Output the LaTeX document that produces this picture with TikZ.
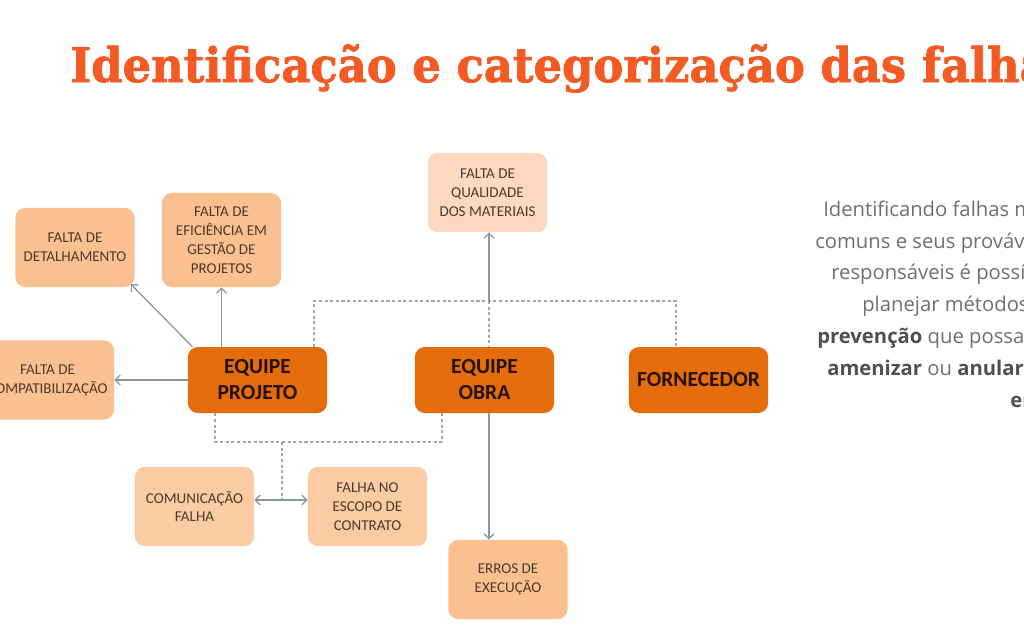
\documentclass[tikz,border=0pt]{standalone}
\usepackage{fontspec}
\setmainfont{Carlito}
\newfontfamily\titlefont{DejaVu Serif}[BoldFeatures={FakeBold=1.6}]
\newfontfamily\corpofont{Open Sans}
\usepackage{tikz}
\usetikzlibrary{arrows.meta}

\definecolor{laranja}{HTML}{E46C0A}
\definecolor{claro}{HTML}{FAC090}
\definecolor{maisclaro}{HTML}{FBCBA3}
\definecolor{palido}{HTML}{FCD9BE}
\definecolor{titulocor}{HTML}{F35B25}
\definecolor{textocausa}{HTML}{4C3A2E}
\definecolor{textoequipe}{HTML}{251203}
\definecolor{cinza}{HTML}{8A96A0}
\definecolor{cinzaclaro}{HTML}{A6A6A6}
\definecolor{textocinza}{HTML}{707070}
\definecolor{textoforte}{HTML}{505050}

\begin{document}
\begin{tikzpicture}[x=0.025cm,y=-0.025cm,>={Straight Barb[length=3.5pt,width=7pt]},
    causa/.style={shape=rectangle,rounded corners=0.25cm,fill=claro,text=textocausa,align=center,
      font=\fontsize{10.7}{13.5}\selectfont,minimum width=2.98cm,minimum height=1.98cm,inner sep=1pt},
    equipe/.style={shape=rectangle,rounded corners=0.25cm,fill=laranja,text=textoequipe,align=center,
      font=\bfseries\fontsize{15.3}{18.5}\selectfont,minimum width=3.48cm,minimum height=1.65cm,inner sep=1pt},
    seta/.style={draw=cinza,line width=0.9pt},
    tracejado/.style={draw=cinzaclaro,line width=0.9pt,dash pattern=on 2.2pt off 1.8pt}]
      \useasboundingbox (0,0) rectangle (1024,640);
      \clip (0,0) rectangle (1024,640);
      \fill[white] (0,0) rectangle (1024,640);

      \node[anchor=base west,inner sep=0pt,xscale=0.938,text=titulocor,font=\titlefont\bfseries\fontsize{34}{34}\selectfont](titulo) at (70,82) {Identificação e categorização das falhas};

      \node[causa](det) at (75,247.5) {FALTA DE\\DETALHAMENTO};
      \node[causa,minimum height=2.35cm](efi) at (221.5,240) {FALTA DE\\EFICIÊNCIA EM\\GESTÃO DE\\PROJETOS};
      \node[causa,fill=palido](qual) at (487.5,192.5) {FALTA DE\\QUALIDADE\\DOS MATERIAIS};
      \node[causa,minimum width=3.33cm](comp) at (47.5,380) {FALTA DE\\COMPATIBILIZAÇÃO};
      \node[equipe](projeto) at (257.5,380) {EQUIPE\\PROJETO};
      \node[equipe](obra) at (484.5,380) {EQUIPE\\OBRA};
      \node[equipe](forn) at (698.5,380) {FORNECEDOR};
      \node[causa,fill=maisclaro](comu) at (194.5,506.5) {COMUNICAÇÃO\\FALHA};
      \node[causa,fill=maisclaro](escopo) at (367.5,506.5) {FALHA NO\\ESCOPO DE\\CONTRATO};
      \node[causa](erros) at (508,579.5) {ERROS DE\\EXECUÇÃO};

      \coordinate (busL) at (314,301);
      \coordinate (busM) at (489,301);
      \coordinate (busR) at (676,301);
      \coordinate (baseL) at (215,442);
      \coordinate (baseM) at (282,442);
      \coordinate (baseR) at (442,442);
      \coordinate (junta) at (282,500);

      \draw[tracejado] (busL |- projeto.north) -- (busL) -- (busR) -- (busR |- forn.north);
      \draw[tracejado] (busM) -- (busM |- obra.north);
      \draw[tracejado] (baseL |- projeto.south) -- (baseL) -- (baseR) -- (baseR |- obra.south);
      \draw[tracejado] (baseM) -- (junta);

      \path [->] ([xshift=0.12cm]projeto.north west) edge[seta] ([shift={(-0.1cm,0.08cm)}]det.south east);
      \path [->] (efi.south |- projeto.north) edge[seta] (efi.south);
      \path [->] (projeto.west) edge[seta] (comp.east);
      \path [->] (busM) edge[seta] (busM |- qual.south);
      \path [->] (busM |- obra.south) edge[seta] (busM |- erros.north);
      \path [<->] (comu.east |- junta) edge[seta] (escopo.west |- junta);

      \foreach \x/\y/\t [count=\i] in {823/216/{Identificando falhas mais},
          815/248/{comuns e seus prováveis},
          831/279/{responsáveis é possível},
          862/311/{planejar métodos de},
          817/343/{\textcolor{textoforte}{\textbf{prevenção}} que possam},
          827/375/{\textcolor{textoforte}{\textbf{amenizar}} ou \textcolor{textoforte}{\textbf{anular os}}},
          1010/407/{\textcolor{textoforte}{\textbf{erros.}}}}
        \node[anchor=base west,inner sep=0pt,text=textocinza,font=\corpofont\fontsize{14.4}{14.4}\selectfont](linha\i) at (\x,\y) {\t};
\end{tikzpicture}
\end{document}
